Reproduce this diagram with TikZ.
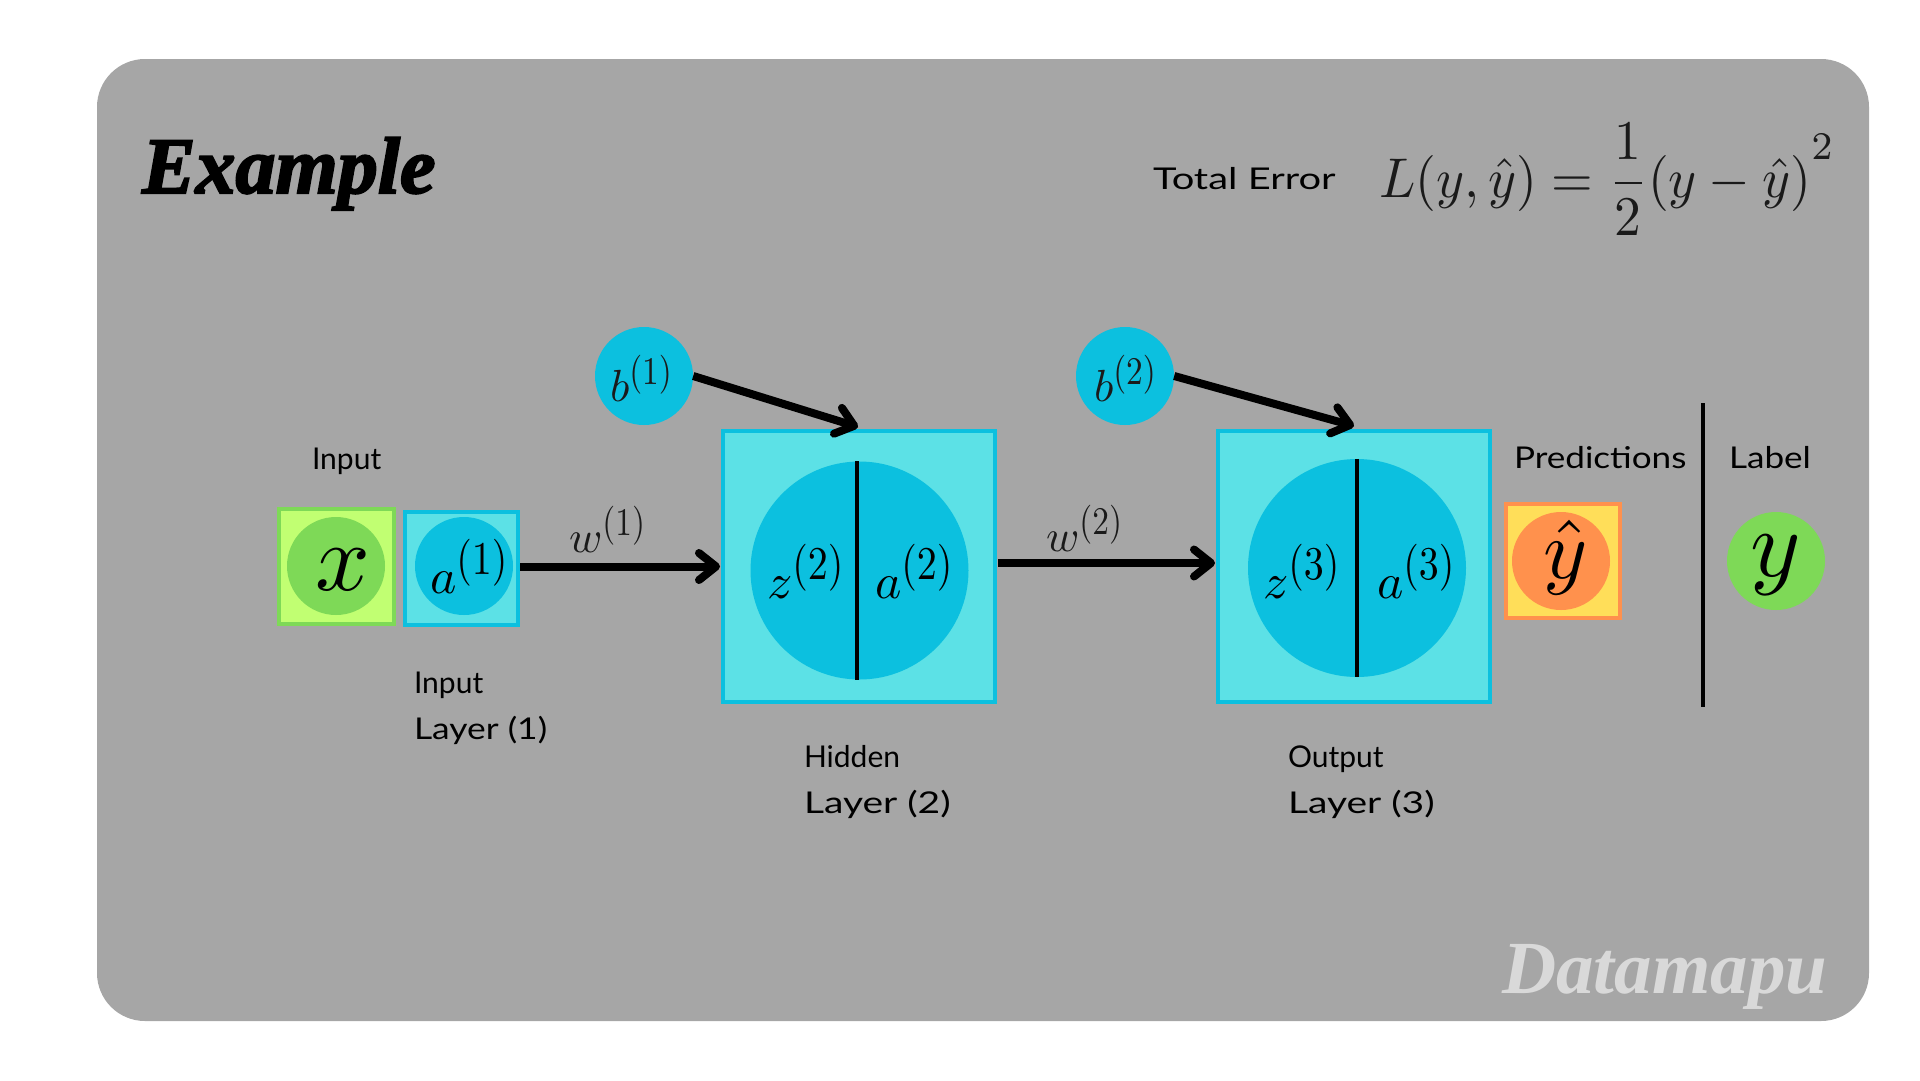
\documentclass[tikz,border=0pt]{standalone}
\usepackage{amsmath}
\usepackage{fix-cm}
\usepackage[no-math]{fontspec}
\usetikzlibrary{arrows.meta}
\newfontfamily\handfont{Lato}
\newfontfamily\scriptfontA[BoldItalicFeatures={FakeBold=2.5}]{Liberation Serif}
\newfontfamily\scriptfontB{Liberation Serif}
\definecolor{panelgray}{HTML}{A6A6A6}
\definecolor{cyanlight}{HTML}{5CE1E6}
\definecolor{cyandark}{HTML}{0CC0DF}
\definecolor{greenlight}{HTML}{C1FF72}
\definecolor{greendark}{HTML}{7ED957}
\definecolor{orangedark}{HTML}{FF914D}
\definecolor{yellowlight}{HTML}{FFDE59}
\definecolor{inkmath}{HTML}{1A1A1A}
\tikzset{
  boxbase/.style={rectangle,inner sep=0pt,line width=4pt},
  circbase/.style={circle,inner sep=0pt,draw=none},
  cyanbox/.style={boxbase,draw=cyandark,fill=cyanlight},
  greenbox/.style={boxbase,draw=greendark,fill=greenlight},
  orangebox/.style={boxbase,draw=orangedark,fill=yellowlight},
  smallcirc/.style={circbase,minimum size=98pt},
  bigcirc/.style={circbase,minimum size=218pt,fill=cyandark},
  mathlabel/.style={anchor=base west,inner sep=0pt,outer sep=0pt,text=inkmath},
  handlabel/.style={anchor=base west,inner sep=0pt,outer sep=0pt,text=black,font=\handfont\fontsize{30}{36}\selectfont},
  conn/.style={line width=8pt,-{Straight Barb[length=17pt,width=27pt,round]},black},
  divider/.style={line width=4pt,black}
}
\newcommand{\mth}[2]{\scalebox{#1}{$#2$}}
\newcommand{\supA}[1]{^{\scalebox{.8}[.94]{$(#1)$}}}
\newcommand{\supW}[1]{^{\scalebox{.74}[.87]{$(#1)$}}}
\newcommand{\wide}[2]{\scalebox{#1}[1]{#2}}
\begin{document}
\begin{tikzpicture}[x=1pt,y=-1pt]
\useasboundingbox (0,0) rectangle (1920,1080);
\fill[panelgray,rounded corners=48pt] (97,59) rectangle (1869,1021);

\node[greenbox,minimum width=115pt,minimum height=115pt] (xbox) at (336.5,566.5) {};
\node[smallcirc,fill=greendark] (xcirc) at (336,566) {};
\node[cyanbox,minimum width=113pt,minimum height=113pt] (abox) at (461.5,568.5) {};
\node[smallcirc,fill=cyandark] (acirc) at (464,566) {};
\node[cyanbox,minimum width=272pt,minimum height=271pt] (hbox) at (859,566.5) {};
\node[bigcirc] (hcirc) at (859.5,570.5) {};
\node[cyanbox,minimum width=272pt,minimum height=271pt] (obox) at (1354,566.5) {};
\node[bigcirc] (ocirc) at (1357,568) {};
\node[smallcirc,fill=cyandark] (bone) at (644,376) {};
\node[smallcirc,fill=cyandark] (btwo) at (1125,376) {};
\node[orangebox,minimum width=114pt,minimum height=114pt] (pbox) at (1563,561) {};
\node[smallcirc,fill=orangedark] (pcirc) at (1561,561) {};
\node[smallcirc,fill=greendark] (ycirc) at (1776,561) {};

\draw[divider] ([xshift=-2.5pt]hcirc.north) -- ([xshift=-2.5pt]hcirc.south);
\draw[divider] (ocirc.north) -- (ocirc.south);
\coordinate (vtop) at (1703,403);
\coordinate (vbot) at (1703,707);
\draw[divider] (vtop) -- (vbot);

\draw[conn] ([yshift=2pt]abox.east) -- ([xshift=-1pt]hbox.west);
\draw[conn] ([yshift=3.5pt,xshift=1pt]hbox.east) -- ([yshift=3.5pt,xshift=-1pt]obox.west);
\draw[conn] (bone.east) -- ([xshift=-1pt,yshift=2pt]hbox.north);
\draw[conn] (btwo.east) -- ([yshift=3pt]obox.north);

\node[mathlabel,text=black] (xt) at (315,590) {\mth{9.6}{x}};
\node[mathlabel,text=black] (at1) at (430,593) {\mth{5}{a\supA{1}}};
\node[mathlabel] (wt1) at (569,552) {\mth{4.5}{w\supW{1}}};
\node[mathlabel,text=black] (zt2) at (767,598) {\mth{5}{z\supA{2}}};
\node[mathlabel,text=black] (at2) at (875,598) {\mth{5}{a\supA{2}}};
\node[mathlabel] (wt2) at (1046,551) {\mth{4.5}{w\supW{2}}};
\node[mathlabel,text=black] (zt3) at (1263,598) {\mth{5}{z\supA{3}}};
\node[mathlabel,text=black] (at3) at (1377,598) {\mth{5}{a\supA{3}}};
\node[mathlabel] (bt1) at (610,401) {\mth{4.5}{b\supW{1}}};
\node[mathlabel] (bt2) at (1094,401) {\mth{4.5}{b\supW{2}}};
\node[mathlabel,text=black] (yh) at (1543,578) {\mth{8.4}{\hat{y}}};
\node[mathlabel,text=black] (yt) at (1750,576) {\mth{9.6}{y}};

\node[mathlabel] (eq) at (1379,197) {\scalebox{5.35}[5.6]{$\displaystyle L(y,\hat{y})=\frac{1}{2}(y-\hat{y})^{\raisebox{2.5pt}{$\scriptstyle 2$}}$}};

\node[handlabel] (lin) at (312,469) {Input};
\node[handlabel] (l1a) at (414,693) {Input};
\node[handlabel] (l1b) at (414,739) {\wide{1.18}{Layer (1)}};
\node[handlabel] (l2a) at (804,767) {Hidden};
\node[handlabel] (l2b) at (804,813) {\wide{1.3}{Layer (2)}};
\node[handlabel] (l3a) at (1288,767) {Output};
\node[handlabel] (l3b) at (1288,813) {\wide{1.3}{Layer (3)}};
\node[handlabel] (lpr) at (1514,468) {\wide{1.17}{Predictions}};
\node[handlabel] (llb) at (1729,468) {\wide{1.17}{Label}};
\node[handlabel] (lte) at (1153,189) {\wide{1.33}{Total Error}};

\node[anchor=base west,inner sep=0pt,text=black,font=\scriptfontA\bfseries\itshape\fontsize{80}{80}\selectfont] (title) at (142,193) {Example};
\node[anchor=base west,inner sep=0pt,text=black!15,font=\scriptfontB\bfseries\itshape\fontsize{75}{75}\selectfont] (brand) at (1502,993) {Datamapu};
\end{tikzpicture}
\end{document}
